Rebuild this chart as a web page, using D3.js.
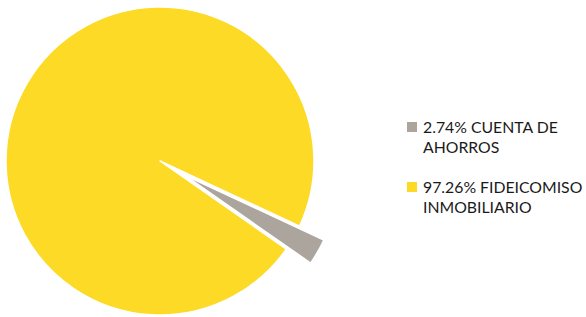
<!DOCTYPE html>
<html>
<head>
<meta charset="utf-8">
<script src="https://cdn.jsdelivr.net/npm/d3@7"></script>
<style>
  body { margin: 0; background: #fff; }
  svg { display: block; }
</style>
</head>
<body>
<div id="chart"></div>
<script>
// chart data
const categories = ["CUENTA DE AHORROS", "FIDEICOMISO INMOBILIARIO"];
const values = [2.74, 97.26];
const legendLines = [["2.74% CUENTA DE", "AHORROS"], ["97.26% FIDEICOMISO", "INMOBILIARIO"]];
const colors = ["#ABA59E", "#FDDA25"];
const exploded = [true, false];

const width = 586, height = 317;
const cx = 160, cy = 161, radius = 154;
const explodeBy = 28;
const rotation = 115 * Math.PI / 180;

const svg = d3.select("#chart")
    .append("svg")
    .attr("width", width)
    .attr("height", height);

const pie = d3.pie()
    .sort(null)
    .value(d => d)
    .startAngle(rotation)
    .endAngle(rotation + 2 * Math.PI);

const arc = d3.arc().innerRadius(0).outerRadius(radius);

const g = svg.append("g").attr("transform", `translate(${cx},${cy})`);

g.selectAll("path")
    .data(pie(values))
    .enter()
    .append("path")
    .attr("d", arc)
    .attr("fill", (_, i) => colors[i])
    .attr("stroke", "#fff")
    .attr("stroke-width", 1.5)
    .attr("stroke-linejoin", "round")
    .attr("transform", (d, i) => {
        if (!exploded[i]) return null;
        const mid = (d.startAngle + d.endAngle) / 2;
        return `translate(${Math.sin(mid) * explodeBy},${-Math.cos(mid) * explodeBy})`;
    });

// legend
const legend = svg.append("g").attr("transform", "translate(407,122)");
const item = legend.selectAll("g")
    .data(categories)
    .enter()
    .append("g")
    .attr("transform", (_, i) => `translate(0,${i * 60})`);

item.append("rect")
    .attr("width", 10)
    .attr("height", 10)
    .attr("fill", (_, i) => colors[i]);

item.append("text")
    .attr("x", 16)
    .attr("y", 10.5)
    .attr("font-family", "Lato, sans-serif")
    .attr("font-size", 15.8)
    .attr("fill", "#1a1a1a")
    .selectAll("tspan")
    .data((_, i) => legendLines[i])
    .enter()
    .append("tspan")
    .attr("x", 16)
    .attr("dy", (_, j) => j === 0 ? 0 : 20)
    .text(d => d);
</script>
</body>
</html>
